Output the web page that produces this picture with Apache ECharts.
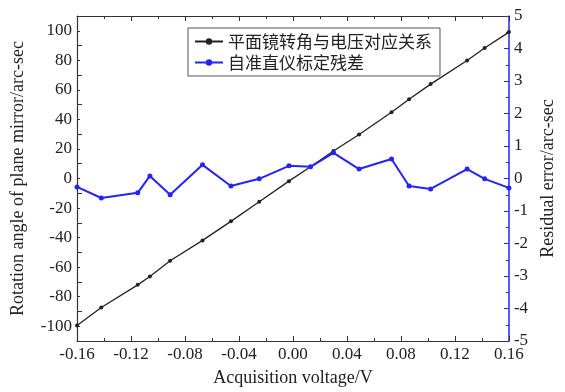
<!DOCTYPE html>
<html><head><meta charset="utf-8">
<script src="https://cdn.jsdelivr.net/npm/echarts@6/dist/echarts.min.js"></script>
<style>html,body{margin:0;padding:0;background:#fff}#c{width:565px;height:392px}</style>
</head><body><div id="c"></div>
<script>
const voltage = [-0.16,-0.142,-0.115,-0.106,-0.091,-0.067,-0.046,-0.025,-0.003,0.013,0.030,0.049,0.073,0.086,0.102,0.129,0.142,0.16];
const rotationAngle = [-99.5,-87.3,-72.0,-66.3,-55.7,-41.9,-29.0,-15.7,-1.8,7.9,18.6,29.8,44.9,53.7,63.9,79.9,88.3,99.1];
const residual = [-0.26,-0.60,-0.44,0.08,-0.50,0.42,-0.23,-0.01,0.39,0.36,0.79,0.29,0.60,-0.23,-0.32,0.29,-0.01,-0.29];
const seriesNames = ['平面镜转角与电压对应关系','自准直仪标定残差'];
const xTitle = 'Acquisition voltage/V';
const yLeftTitle = 'Rotation angle of plane mirror/arc-sec';
const yRightTitle = 'Residual error/arc-sec';

const serif = '"Liberation Serif","DejaVu Serif",serif';
const blue = '#2424f5';
const chart = echarts.init(document.getElementById('c'));
const xFmt = v => v.toFixed(2);
chart.setOption({
  animation:false,
  backgroundColor:'#fff',
  grid:{left:77,right:49,top:16,bottom:50},
  legend:{
    left:188, top:28, orient:'vertical', itemWidth:28, itemHeight:8, itemGap:4,
    padding:[5,8,5,6], borderColor:'#555', borderWidth:1,
    textStyle:{fontFamily:'"Noto Sans CJK SC",sans-serif', fontSize:17, color:'#222'},
    data:seriesNames
  },
  xAxis:[{
    type:'value', min:-0.16, max:0.16, interval:0.04, position:'bottom',
    name:xTitle, nameLocation:'middle', nameGap:28,
    nameTextStyle:{fontFamily:serif,fontSize:18,color:'#222'},
    axisLine:{onZero:false,lineStyle:{color:'#333',width:1.2}},
    axisTick:{inside:true,length:5,lineStyle:{color:'#333'}},
    minorTick:{show:true,splitNumber:2,length:3,lineStyle:{color:'#333'}},
    axisLabel:{formatter:xFmt,fontFamily:serif,fontSize:17,color:'#222',margin:5},
    splitLine:{show:false}
  },{
    type:'value', min:-0.16, max:0.16, interval:0.04, position:'top',
    axisLine:{onZero:false,lineStyle:{color:'#333',width:1.2}},
    axisTick:{inside:true,length:5,lineStyle:{color:'#333'}},
    minorTick:{show:true,splitNumber:2,length:3,lineStyle:{color:'#333'}},
    axisLabel:{show:false}, splitLine:{show:false}
  }],
  yAxis:[{
    type:'value', min:-110, max:110, interval:20, position:'left',
    name:yLeftTitle, nameLocation:'middle', nameGap:50, nameRotate:90,
    nameTextStyle:{fontFamily:serif,fontSize:18,color:'#222'},
    axisLine:{onZero:false,lineStyle:{color:'#333',width:1.2}},
    axisTick:{inside:true,length:5,lineStyle:{color:'#333'}},
    minorTick:{show:true,splitNumber:2,length:3,lineStyle:{color:'#333'}},
    axisLabel:{fontFamily:serif,fontSize:17,color:'#222',margin:5,
      customValues:[-100,-80,-60,-40,-20,0,20,40,60,80,100]},
    splitLine:{show:false}
  },{
    type:'value', min:-5, max:5, interval:1, position:'right',
    name:yRightTitle, nameLocation:'middle', nameGap:29, nameRotate:90,
    nameTextStyle:{fontFamily:serif,fontSize:18,color:'#222'},
    axisLine:{onZero:false,lineStyle:{color:blue,width:1.5}},
    axisTick:{inside:true,length:5,lineStyle:{color:blue}},
    minorTick:{show:true,splitNumber:2,length:3,lineStyle:{color:blue}},
    axisLabel:{fontFamily:serif,fontSize:17,color:'#222',margin:5},
    splitLine:{show:false}
  }],
  series:[{
    name:seriesNames[0], type:'line', xAxisIndex:0, yAxisIndex:0,
    data:voltage.map((v,i)=>[v,rotationAngle[i]]),
    symbol:'circle', symbolSize:4, showSymbol:true,
    lineStyle:{color:'#222',width:1.3}, itemStyle:{color:'#222'}
  },{
    name:seriesNames[1], type:'line', xAxisIndex:0, yAxisIndex:1,
    data:voltage.map((v,i)=>[v,residual[i]]),
    symbol:'circle', symbolSize:5, showSymbol:true,
    lineStyle:{color:blue,width:2}, itemStyle:{color:blue}
  }]
});
</script></body></html>
